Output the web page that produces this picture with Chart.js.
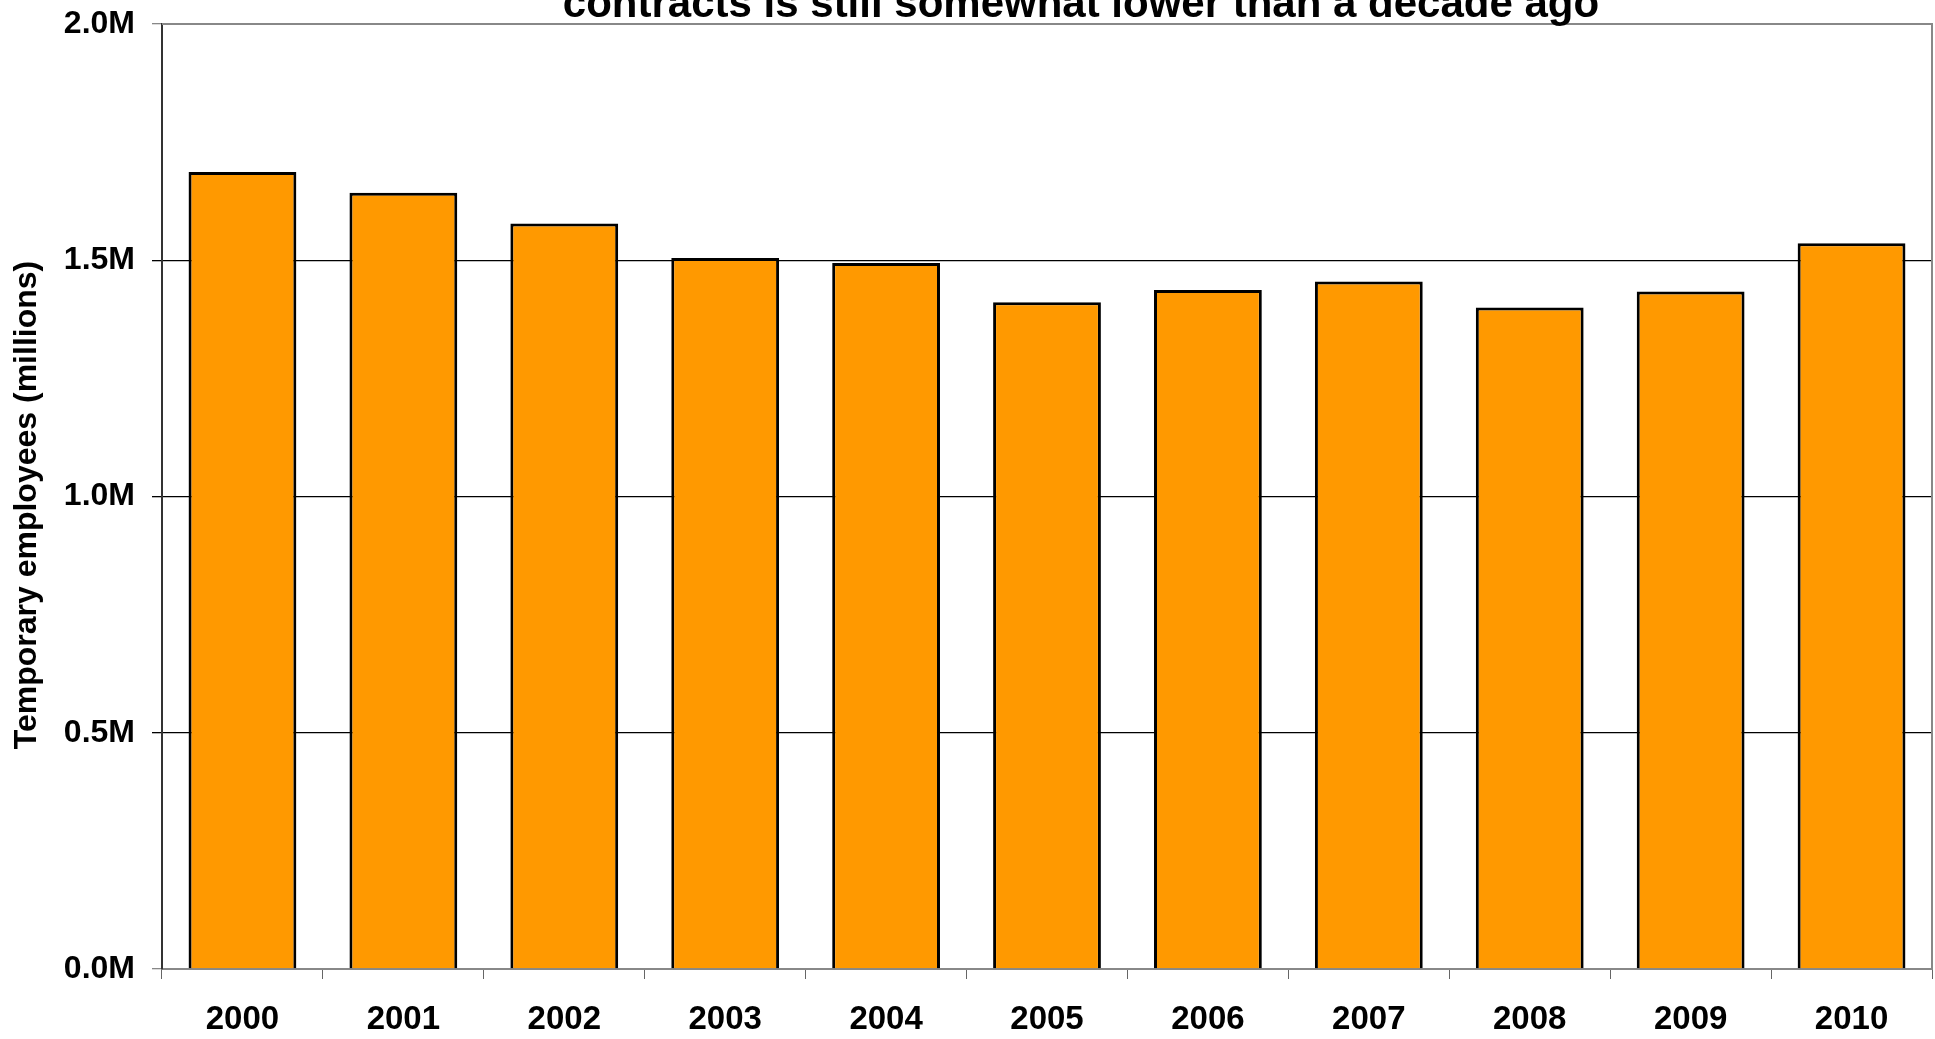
<!DOCTYPE html>
<html>
<head>
<meta charset="utf-8">
<script src="https://cdn.jsdelivr.net/npm/chart.js@4"></script>
<style>
  html, body { margin: 0; padding: 0; background: #fff; }
  #wrap { width: 1935px; height: 1039px; }
</style>
</head>
<body>
<div id="wrap"><canvas id="myChart"></canvas></div>
<script>
const years = ['2000', '2001', '2002', '2003', '2004', '2005', '2006', '2007', '2008', '2009', '2010'];
// temporary employees, millions
const tempEmployees = [1.687, 1.643, 1.578, 1.505, 1.494, 1.411, 1.437, 1.455, 1.400, 1.434, 1.536];
const yTicks = [0, 0.5, 1.0, 1.5, 2.0];

const titleText = 'contracts is still somewhat lower than a decade ago';
const yTitle = 'Temporary employees (millions)';
const FONT = '"Liberation Sans", Arial, sans-serif';

// title, y axis title and the top/right frame
const extras = {
  id: 'extras',
  afterDraw(chart) {
    const ctx = chart.ctx;
    const a = chart.chartArea;
    ctx.save();
    ctx.strokeStyle = '#888';
    ctx.lineWidth = 2;
    ctx.beginPath();
    ctx.moveTo(a.left, a.top);
    ctx.lineTo(a.right, a.top);
    ctx.lineTo(a.right, a.bottom);
    ctx.stroke();

    ctx.fillStyle = '#000';
    ctx.font = 'bold 42px ' + FONT;
    ctx.textAlign = 'center';
    ctx.textBaseline = 'alphabetic';
    ctx.fillText(titleText, 1081, 17);

    ctx.translate(27, 505);
    ctx.rotate(-Math.PI / 2);
    ctx.font = 'bold 32px ' + FONT;
    ctx.textBaseline = 'middle';
    ctx.fillText(yTitle, 0, 0);
    ctx.restore();
  }
};

new Chart(document.getElementById('myChart'), {
  type: 'bar',
  data: {
    labels: years,
    datasets: [{
      data: tempEmployees,
      backgroundColor: '#FF9900',
      borderColor: '#000',
      borderWidth: 3,
      categoryPercentage: 1,
      barPercentage: 0.67
    }]
  },
  options: {
    responsive: true,
    maintainAspectRatio: false,
    animation: false,
    layout: { padding: { top: 24, right: 3, left: 0, bottom: 0 } },
    plugins: {
      legend: { display: false },
      tooltip: { enabled: false }
    },
    scales: {
      x: {
        offset: true,
        grid: {
          offset: true,
          drawOnChartArea: false,
          color: '#666',
          tickLength: 10
        },
        border: { color: '#888', width: 2 },
        ticks: {
          color: '#000',
          font: { family: FONT, size: 33, weight: 'bold' },
          padding: 21,
          maxRotation: 0
        },
        afterFit(scale) { scale.height = 70; }
      },
      y: {
        min: 0,
        max: 2,
        afterBuildTicks(scale) { scale.ticks = yTicks.map(v => ({ value: v })); },
        grid: {
          color: ctx => (ctx.tick && (ctx.tick.value === 2 || ctx.tick.value === 0)) ? '#888' : '#000',
          lineWidth: 1.3,
          tickLength: 10
        },
        border: { color: '#333', width: 2 },
        ticks: {
          color: '#000',
          font: { family: FONT, size: 32, weight: 'bold' },
          padding: 17,
          callback: v => v.toFixed(1) + 'M'
        },
        afterFit(scale) {
          scale.width = 162;
          scale.paddingTop = 0;
          scale.paddingBottom = 0;
        }
      }
    }
  },
  plugins: [extras]
});
</script>
</body>
</html>
